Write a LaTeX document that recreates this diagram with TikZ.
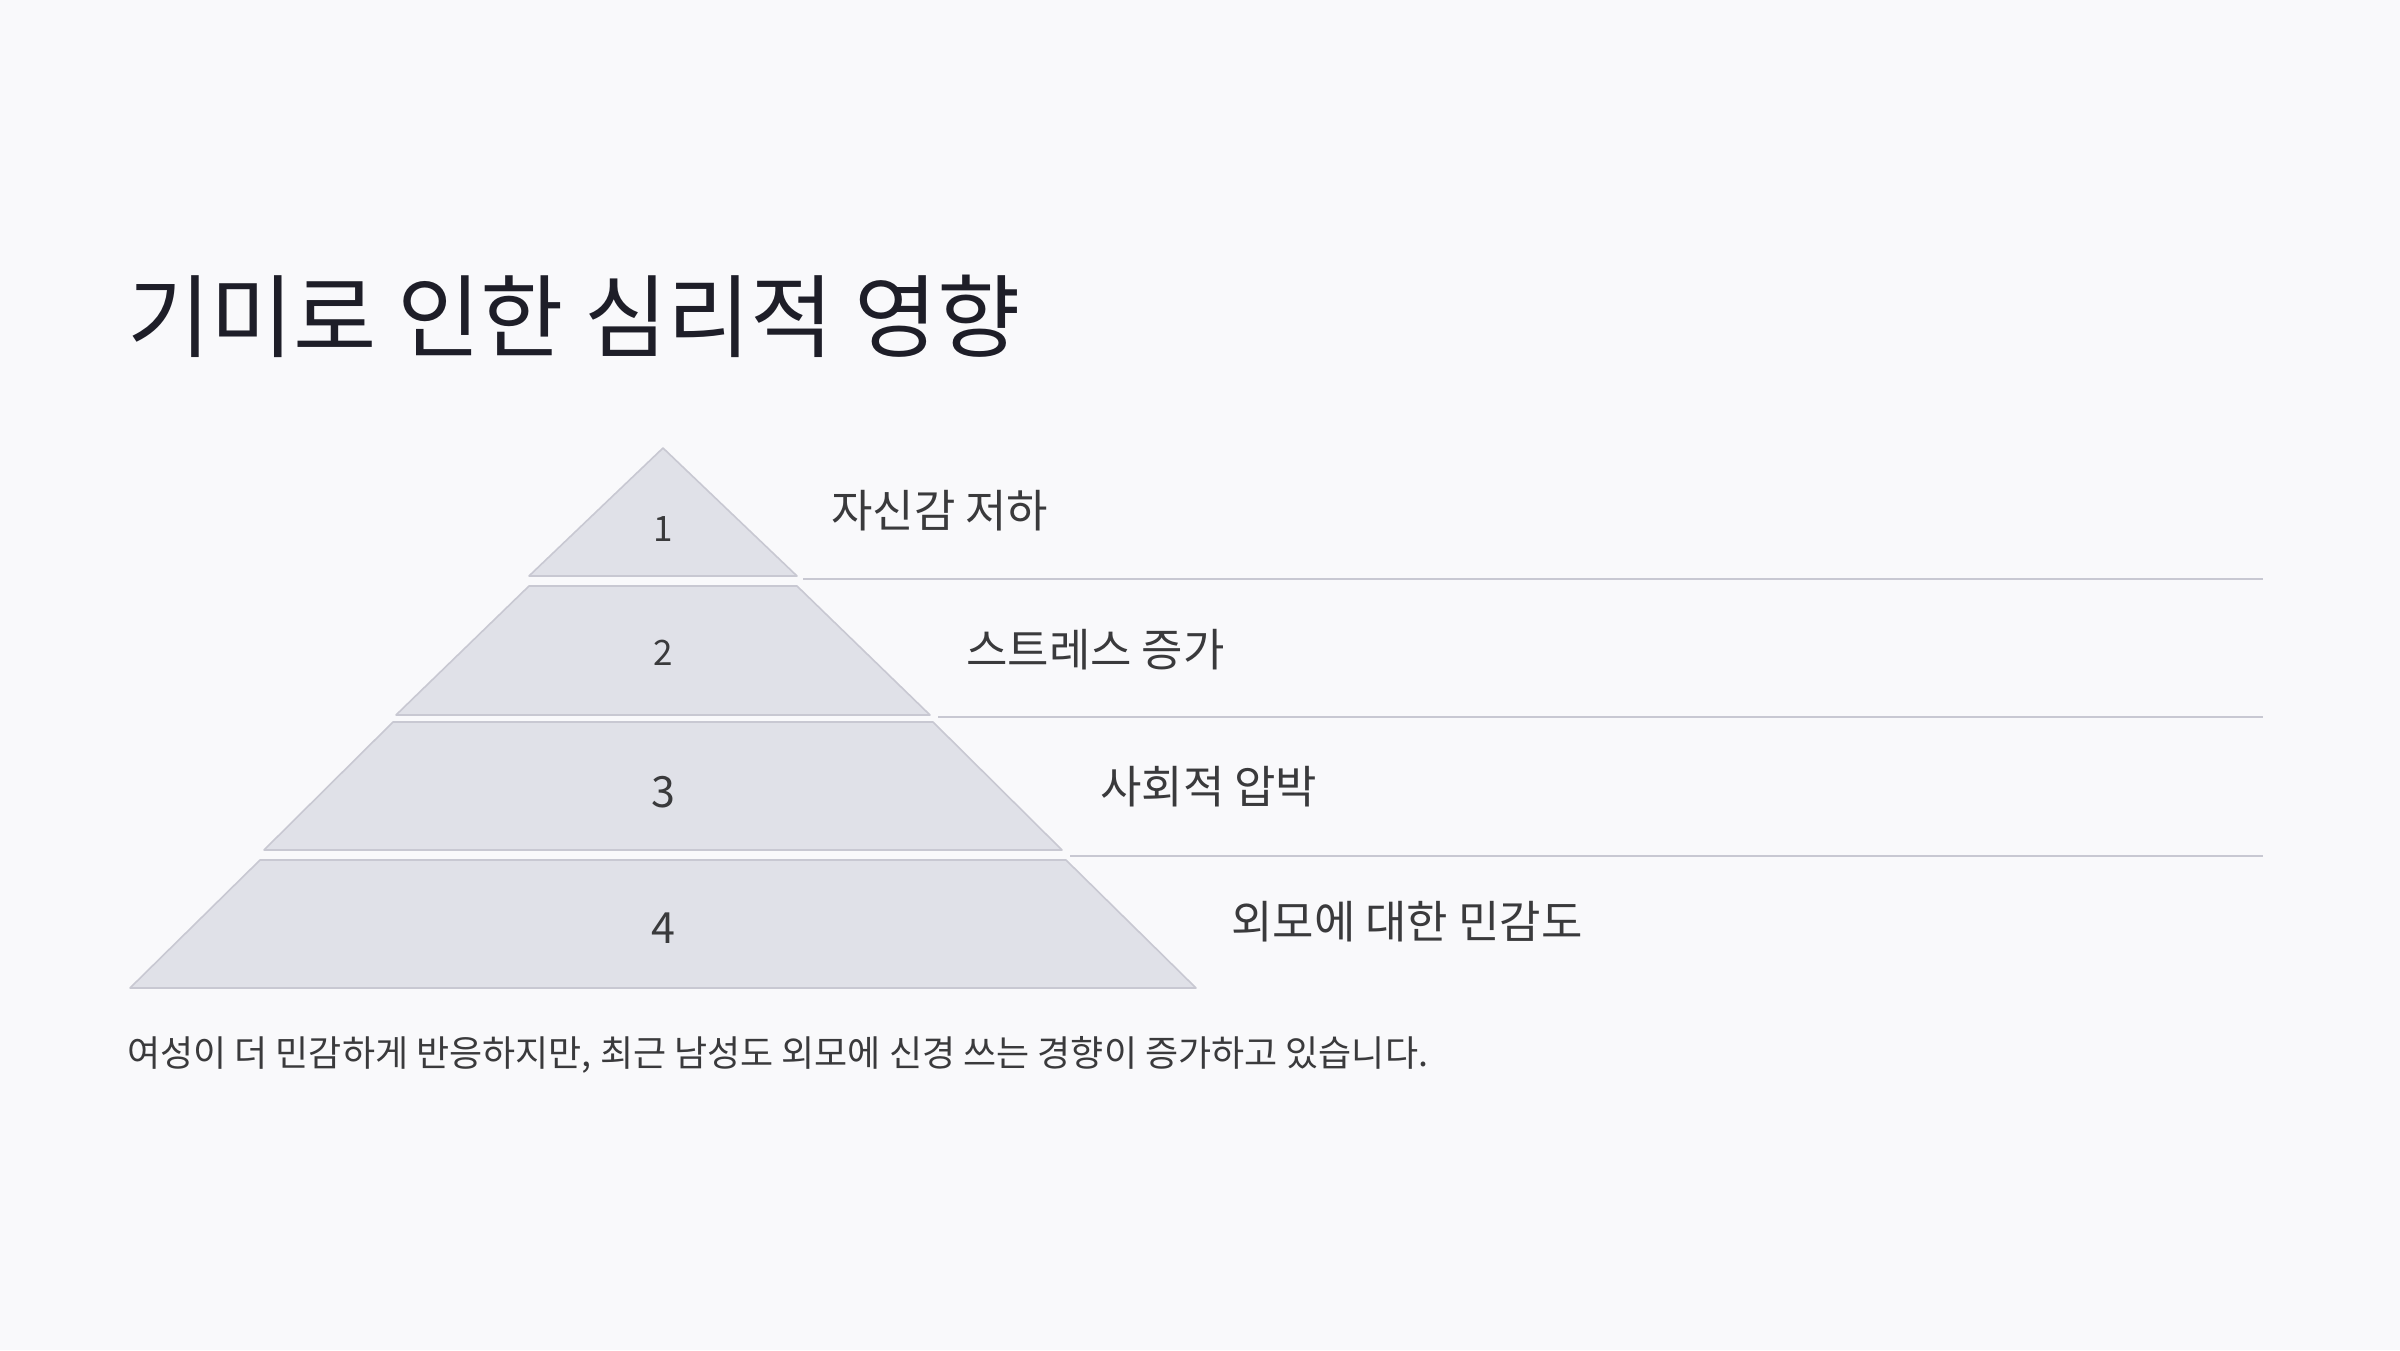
\documentclass[tikz,border=0pt]{standalone}
\usepackage{fontspec}
\setmainfont{Noto Sans CJK KR}
\definecolor{bgc}{HTML}{F9F9FB}
\definecolor{tierfill}{HTML}{E0E1E8}
\definecolor{tierline}{HTML}{C8C8D2}
\definecolor{titlec}{HTML}{1E1E28}
\definecolor{textc}{HTML}{3A3A3C}
\tikzset{
  tier/.style={fill=tierfill, draw=tierline, line width=1.6pt, line join=round},
  sepline/.style={draw=tierline, line width=2pt},
  numlbl/.style={text=textc, inner sep=0pt, anchor=center},
  itemlbl/.style={text=textc, inner sep=0pt, anchor=west, font=\fontsize{45}{52}\selectfont},
}
\begin{document}
\begin{tikzpicture}[x=1pt,y=-1pt]
\fill[bgc] (0,0) rectangle (2400,1350);
\useasboundingbox (0,0) rectangle (2400,1350);

% title
\node[anchor=west, inner sep=0pt, text=titlec, font=\fontsize{90.5}{108}\selectfont] (title) at (127,316) {기미로 인한 심리적 영향};

% pyramid tiers
\draw[tier] (663,448) -- (797,576) -- (529,576) -- cycle;
\draw[tier] (529,586) -- (797,586) -- (930,715) -- (396,715) -- cycle;
\draw[tier] (393,722) -- (933,722) -- (1062,850) -- (264,850) -- cycle;
\draw[tier] (260,860) -- (1066,860) -- (1196,988) -- (130,988) -- cycle;

% numbers
\node[numlbl, font=\fontsize{35}{40}\selectfont] (n1) at (663,529) {1};
\node[numlbl, font=\fontsize{35}{40}\selectfont] (n2) at (663,653) {2};
\node[numlbl, font=\fontsize{43}{48}\selectfont] (n3) at (663,792) {3};
\node[numlbl, font=\fontsize{43}{48}\selectfont] (n4) at (663,928) {4};

% separator lines
\coordinate (a1) at (803,579); \coordinate (b1) at (2263,579);
\coordinate (a2) at (938,717); \coordinate (b2) at (2263,717);
\coordinate (a3) at (1070,856); \coordinate (b3) at (2263,856);
\draw[sepline] (a1) -- (b1);
\draw[sepline] (a2) -- (b2);
\draw[sepline] (a3) -- (b3);

% labels
\node[itemlbl] (l1) at (831,511) {자신감 저하};
\node[itemlbl] (l2) at (966,650) {스트레스 증가};
\node[itemlbl] (l3) at (1100,787) {사회적 압박};
\node[itemlbl] (l4) at (1231,922) {외모에 대한 민감도};

% footnote
\node[anchor=base west, inner sep=0pt, text=textc, font=\fontsize{36}{42}\selectfont] (foot) at (127,1066) {여성이 더 민감하게 반응하지만, 최근 남성도 외모에 신경 쓰는 경향이 증가하고 있습니다.};
\end{tikzpicture}
\end{document}
